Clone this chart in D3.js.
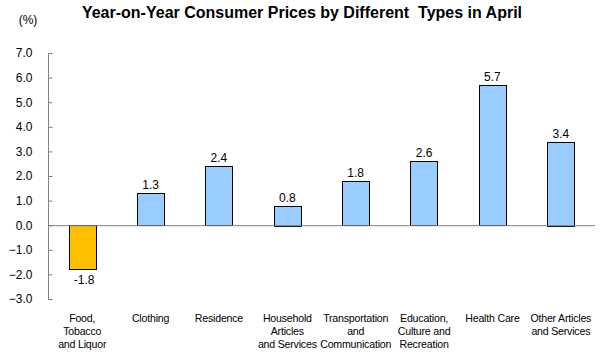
<!DOCTYPE html>
<html><head><meta charset="utf-8">
<script src="https://cdn.jsdelivr.net/npm/d3@7"></script>
<style>body{margin:0;background:#fff}svg{display:block;font-family:Arial,"Liberation Sans",sans-serif}</style>
</head><body><svg id="c" width="605" height="355"></svg>
<script>
const categories = [
  ["Food,","Tobacco","and Liquor"],
  ["Clothing"],
  ["Residence"],
  ["Household","Articles","and Services"],
  ["Transportation","and","Communication"],
  ["Education,","Culture and","Recreation"],
  ["Health Care"],
  ["Other Articles","and Services"]
];
const values = [-1.8, 1.3, 2.4, 0.8, 1.8, 2.6, 5.7, 3.4];
const yTicks = [-3, -2, -1, 0, 1, 2, 3, 4, 5, 6, 7];
const title = "Year-on-Year Consumer Prices by Different\u00a0 Types in April";
const unit = "(%)";

const svg = d3.select("#c");
const x = d3.scaleBand().domain(d3.range(values.length)).range([48, 595]).paddingInner(0.6).paddingOuter(0.3);
const y = d3.scaleLinear().domain([-3, 7]).range([299, 53]);

svg.append("text").attr("x", 302).attr("y", 18).attr("text-anchor", "middle")
  .attr("font-weight", "bold").attr("font-size", 16).attr("fill", "#000").text(title);
svg.append("text").attr("x", 28).attr("y", 24).attr("text-anchor", "middle")
  .attr("font-size", 12).text(unit);

const axis = d3.axisLeft(y).tickValues(yTicks).tickFormat(d3.format(".1f")).tickSizeInner(-4).tickSizeOuter(-4).tickPadding(16);
const g = svg.append("g").attr("transform", "translate(48.5,0)").call(axis);
g.selectAll("path,line").attr("stroke", "#808080");
g.selectAll("text").attr("font-size", 12).attr("font-family", "Arial,'Liberation Sans',sans-serif").attr("fill", "#000");
g.select(".domain").attr("d", `M4,${y(7)+0.5}H0V${y(-3)+0.5}H4`);

svg.append("g").selectAll("rect").data(values).join("rect")
  .attr("x", (d, i) => Math.round(x(i)) + 0.5)
  .attr("width", Math.round(x.bandwidth()))
  .attr("y", d => Math.round(y(Math.max(0, d))) + 0.5)
  .attr("height", d => Math.round(Math.abs(y(d) - y(0))))
  .attr("fill", d => d < 0 ? "#FFC000" : "#99CCFF")
  .attr("stroke", "#000").attr("stroke-width", 1);

svg.append("line").attr("x1", 48).attr("x2", 595).attr("y1", y(0) + 0.5).attr("y2", y(0) + 0.5).attr("stroke", "#808080");

svg.append("g").selectAll("text").data(values).join("text")
  .attr("x", (d, i) => x(i) + x.bandwidth() / 2 + (d < 0 ? 2 : 0))
  .attr("y", d => d < 0 ? y(d) + 15 : y(d) - 4)
  .attr("text-anchor", "middle").attr("font-size", 12).text(d => d.toFixed(1));

const lab = svg.append("g").selectAll("text").data(categories).join("text")
  .attr("x", (d, i) => x(i) + x.bandwidth() / 2)
  .attr("y", 322).attr("text-anchor", "middle").attr("font-size", 10.6).attr("letter-spacing", -0.2);
lab.selectAll("tspan").data(d => d).join("tspan")
  .attr("x", function() { return this.parentNode.getAttribute("x"); })
  .attr("dy", (d, i) => i === 0 ? 0 : 13).text(d => d);
</script></body></html>
